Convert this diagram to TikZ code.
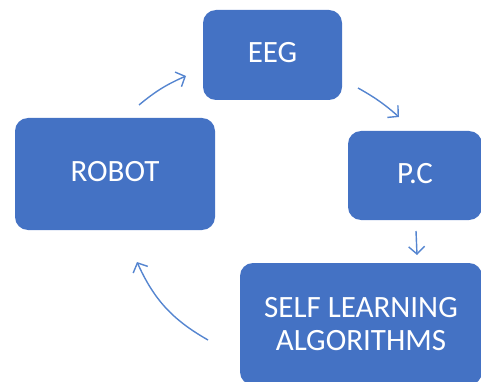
\documentclass[tikz,border=0pt]{standalone}
\usepackage{fontspec}
\setmainfont{Carlito}
\usetikzlibrary{arrows.meta}
\definecolor{boxblue}{HTML}{4472C4}
\definecolor{arrowblue}{HTML}{5585D0}
\tikzset{
  stagebox/.style={fill=boxblue, draw=none, rounded corners=13pt, text=white,
    font=\fontsize{31}{33}\selectfont, inner sep=0pt},
  oneline/.style={stagebox, text height=20pt, text depth=5pt},
  flow/.style={draw=arrowblue, line width=1.4pt,
    -{Straight Barb[length=7.5pt, width=16pt, line width=1.4pt]}}
}
\begin{document}
\begin{tikzpicture}[x=1pt, y=-1pt]
  \useasboundingbox (0,0) rectangle (481,382);
  \clip (0,0) rectangle (481,382);

  % stages of the loop
  \node[oneline, minimum width=139pt, minimum height=90pt] (eeg) at (272.5,55) {EEG};
  \node[oneline, minimum width=134pt, minimum height=89pt] (pc) at (415,175.5) {P.C};
  \node[oneline, minimum width=200pt, minimum height=112pt] (robot) at (115,174) {ROBOT};
  \node[stagebox, align=center, minimum width=242pt, minimum height=122pt] (sla) at (361,324)
    {SELF LEARNING\\ALGORITHMS};

  % arrow ends between the boxes
  \coordinate (a1) at (139,105);  \coordinate (b1) at (186,76);
  \coordinate (a2) at (358,88);   \coordinate (b2) at (399,117);
  \coordinate (a3) at (416,231);  \coordinate (b3) at (417,255);
  \coordinate (a4) at (208,340);  \coordinate (b4) at (137,262);

  \draw[flow] (a1) to[bend left=8] (b1);
  \draw[flow] (a2) to[bend left=6] (b2);
  \draw[flow] (a3) -- (b3);
  \draw[flow] (a4) to[bend left=18] (b4);
\end{tikzpicture}
\end{document}
